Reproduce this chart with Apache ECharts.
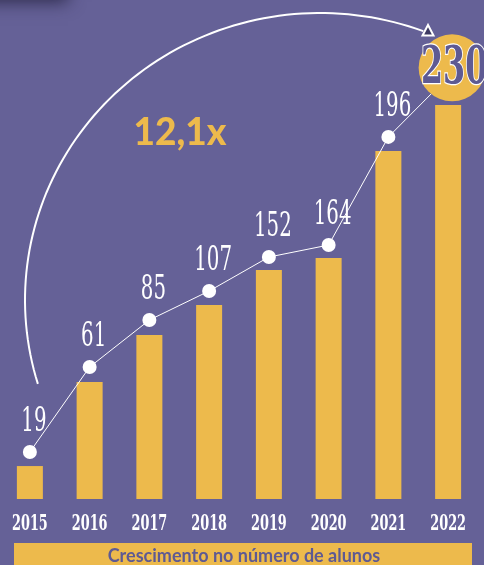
<!DOCTYPE html>
<html>
<head>
<meta charset="utf-8">
<script src="https://cdn.jsdelivr.net/npm/echarts@6/dist/echarts.min.js"></script>
<style>
html,body{margin:0;padding:0;background:#656197;}
#c{width:484px;height:565px;}
</style>
</head>
<body>
<div id="c"></div>
<script>
// Data
const years = ['2015', '2016', '2017', '2018', '2019', '2020', '2021', '2022'];
const students = [19, 61, 85, 107, 152, 164, 196, 230];
// drawn heights of the bars and of the line points (same scale)
const barLevels = [19.2, 68.2, 95.6, 113, 133.5, 140.4, 202.8, 229.6];
const pointLevels = [27.4, 76.9, 104.3, 121.2, 141, 148, 211, 246];
const growthText = '12,1x';
const footerText = 'Crescimento no número de alunos';

const BG = '#656197';
const YELLOW = '#EDBA4C';
const PURPLE = '#5E5A93';
const SERIF = '"DejaVu Serif", "Liberation Serif", serif';

const chart = echarts.init(document.getElementById('c'), null, {renderer: 'canvas'});
const last = pointLevels.length - 1;

const lineData = pointLevels.map((v, i) => {
  if (i === last) {
    return {
      value: v,
      symbolSize: 67,
      symbolOffset: [4, -9],
      itemStyle: {color: YELLOW, borderWidth: 0}
    };
  }
  return v;
});

chart.setOption({
  backgroundColor: BG,
  animation: false,
  grid: {left: -5, right: 6, top: 70, bottom: 66, containLabel: false},
  xAxis: {
    type: 'category',
    data: years,
    axisLine: {show: false},
    axisTick: {show: false},
    axisLabel: {show: false}
  },
  yAxis: {
    type: 'value',
    min: 0,
    max: 250,
    show: false,
    splitLine: {show: false}
  },
  series: [
    {
      type: 'bar',
      data: barLevels,
      barWidth: 26,
      itemStyle: {color: YELLOW},
      z: 2
    },
    {
      type: 'line',
      data: lineData,
      symbol: 'circle',
      symbolSize: 14,
      lineStyle: {color: '#ffffff', width: 1},
      itemStyle: {color: '#ffffff'},
      label: {show: false},
      z: 3
    }
  ]
});

// Text labels (condensed by horizontal scaling), placed from the chart's own scales
const graphics = [];
pointLevels.forEach((v, i) => {
  const p = chart.convertToPixel({seriesIndex: 1}, [i, v]);
  if (i === last) {
    graphics.push({
      type: 'text', x: p[0] + 6, y: p[1] - 8, scaleX: 0.6, z: 20,
      style: {
        text: String(students[i]), fill: PURPLE, stroke: '#ffffff', lineWidth: 2.5,
        font: 'bold 53px ' + SERIF, align: 'center', verticalAlign: 'middle'
      }
    });
  } else {
    graphics.push({
      type: 'text', x: p[0] + 4, y: p[1] - 30, scaleX: 0.6, z: 20,
      style: {
        text: String(students[i]), fill: '#ffffff',
        font: 'normal 33px ' + SERIF, align: 'center', verticalAlign: 'middle'
      }
    });
  }
});
years.forEach((yr, i) => {
  const p = chart.convertToPixel({xAxisIndex: 0, yAxisIndex: 0}, [i, 0]);
  graphics.push({
    type: 'text', x: p[0], y: p[1] + 25, scaleX: 0.56, z: 20,
    style: {
      text: yr, fill: '#ffffff',
      font: 'bold 23px ' + SERIF, align: 'center', verticalAlign: 'middle'
    }
  });
});

// Annotations (arc with arrow, growth factor, footer banner, corner shadow)
const arcPts = [];
const cx = 320, cy = 300, rx = 295, ry = 287;
for (let a = 163; a <= 290.5; a += 1.5) {
  const t = a * Math.PI / 180;
  arcPts.push([cx + rx * Math.cos(t), cy + ry * Math.sin(t)]);
}

graphics.push(
  {
    type: 'rect',
    shape: {x: -40, y: -52, width: 108, height: 52},
    style: {fill: 'rgba(40,38,68,1)', shadowBlur: 16, shadowOffsetY: 2, shadowColor: 'rgba(35,33,62,0.85)'},
    z: 1
  },
  {
    type: 'polyline',
    shape: {points: arcPts},
    style: {stroke: '#ffffff', lineWidth: 2, fill: null},
    z: 10
  },
  {
    type: 'polygon',
    shape: {points: [[428, 25], [422.5, 35.5], [433.5, 35.5]]},
    style: {fill: '#3c3962', stroke: '#ffffff', lineWidth: 2},
    z: 11
  },
  {
    type: 'text',
    x: 180, y: 133,
    style: {
      text: growthText,
      fill: YELLOW,
      font: '900 37px Lato, "Open Sans", sans-serif',
      align: 'center',
      verticalAlign: 'middle'
    },
    z: 10
  },
  {
    type: 'rect',
    shape: {x: 14, y: 543, width: 458, height: 30},
    style: {fill: YELLOW},
    z: 10
  },
  {
    type: 'text',
    x: 244, y: 556,
    style: {
      text: footerText,
      fill: PURPLE,
      font: 'bold 18px Lato, "Open Sans", sans-serif',
      align: 'center',
      verticalAlign: 'middle'
    },
    z: 11
  }
);

chart.setOption({graphic: graphics});
</script>
</body>
</html>
